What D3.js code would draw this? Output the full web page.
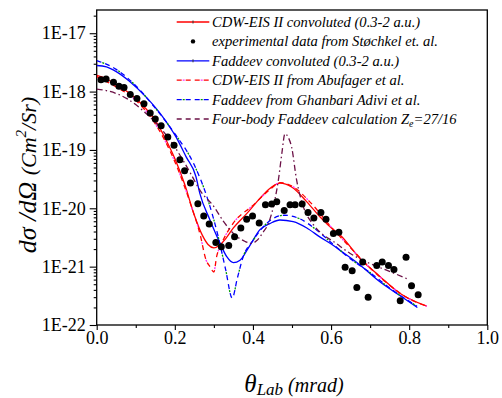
<!DOCTYPE html>
<html>
<head>
<meta charset="utf-8">
<script src="https://cdn.jsdelivr.net/npm/d3@7"></script>
<style>
  body { margin: 0; background: #fff; }
  text { font-family: "Liberation Serif", "Times New Roman", serif; }
</style>
</head>
<body>
<svg id="chart" width="502" height="398"></svg>
<script>
// [theta (mrad), dsigma/dOmega (cm^2/sr)]
const experimental = [
  [0.011, 1.6e-18], [0.024, 1.65e-18], [0.043, 1.45e-18], [0.057, 1.23e-18], [0.070, 1.17e-18],
  [0.086, 8.9e-19], [0.103, 7.6e-19], [0.121, 6.2e-19], [0.137, 4.3e-19], [0.150, 3.4e-19],
  [0.165, 2.6e-19], [0.182, 1.67e-19], [0.198, 1.2e-19], [0.213, 6.8e-20], [0.225, 4.4e-20],
  [0.240, 2.7e-20], [0.259, 1.2e-20], [0.274, 7.4e-21], [0.288, 5.4e-21], [0.305, 2.6e-21],
  [0.319, 2.2e-21], [0.338, 2.3e-21], [0.353, 3.25e-21], [0.369, 4.6e-21], [0.384, 6.5e-21],
  [0.399, 7.4e-21], [0.416, 5.6e-21], [0.432, 1.15e-20], [0.448, 1.18e-20], [0.461, 1.29e-20],
  [0.480, 9.2e-21], [0.495, 1.15e-20], [0.508, 1.15e-20], [0.526, 1.18e-20], [0.541, 8.5e-21],
  [0.556, 6.8e-21], [0.574, 8.5e-21], [0.587, 6.5e-21], [0.606, 3.7e-21], [0.620, 3.9e-21],
  [0.636, 9.8e-22], [0.654, 8.5e-22], [0.666, 4.4e-22], [0.681, 1.2e-21], [0.695, 3.0e-22],
  [0.717, 1.05e-21], [0.731, 1.2e-21], [0.747, 1.05e-21], [0.761, 8.9e-22], [0.777, 2.6e-22],
  [0.792, 1.45e-21], [0.806, 4.7e-22], [0.823, 3.3e-22]
];

const cdwConvoluted = [
  [0, 1.9e-18], [0.025, 1.66e-18], [0.05, 1.29e-18], [0.083, 9.5e-19], [0.126, 5.1e-19],
  [0.15, 3.2e-19], [0.175, 1.6e-19], [0.2, 7.1e-20], [0.225, 2.6e-20], [0.25, 7.6e-21],
  [0.27, 3.5e-21], [0.285, 2.4e-21], [0.30, 2.1e-21], [0.315, 2.35e-21], [0.33, 3.0e-21],
  [0.35, 4.6e-21], [0.384, 8.1e-21], [0.418, 1.48e-20], [0.444, 2.2e-20], [0.469, 2.7e-20],
  [0.50, 2.3e-20], [0.538, 1.29e-20], [0.572, 7.1e-21], [0.606, 4.3e-21], [0.623, 3.5e-21],
  [0.674, 1.38e-21], [0.725, 6.8e-22], [0.776, 3.5e-22], [0.845, 2.1e-22]
];

const faddeevConvoluted = [
  [0, 2.8e-18], [0.025, 2.65e-18], [0.05, 2.2e-18], [0.083, 1.52e-18], [0.126, 8.1e-19],
  [0.169, 3.7e-19], [0.203, 1.67e-19], [0.229, 7.6e-20], [0.254, 3.5e-20], [0.264, 1.8e-20],
  [0.29, 6.3e-21], [0.316, 2.5e-21], [0.333, 1.48e-21], [0.35, 1.17e-21], [0.367, 1.29e-21],
  [0.392, 2.3e-21], [0.418, 4.3e-21], [0.444, 5.5e-21], [0.469, 6.3e-21], [0.503, 5.9e-21],
  [0.538, 4.6e-21], [0.572, 3.2e-21], [0.606, 2.3e-21], [0.623, 1.9e-21], [0.674, 1.07e-21],
  [0.725, 5.5e-22], [0.776, 3.2e-22], [0.821, 2.0e-22]
];

const cdwAbufager = [
  [0, 1.8e-18], [0.05, 1.2e-18], [0.1, 7.1e-19], [0.15, 2.8e-19], [0.2, 6.3e-20],
  [0.24, 1.2e-20], [0.265, 3.5e-21], [0.28, 1.3e-21], [0.29, 1.0e-21], [0.30, 8.1e-22],
  [0.307, 1.48e-21], [0.32, 2.5e-21], [0.35, 5.6e-21], [0.40, 1.12e-20], [0.44, 2.0e-20],
  [0.47, 2.75e-20], [0.50, 2.4e-20], [0.55, 1.2e-20], [0.60, 4.8e-21], [0.65, 2.1e-21],
  [0.70, 9.5e-22], [0.75, 4.8e-22], [0.80, 2.8e-22], [0.845, 2.1e-22]
];

const faddeevGhanbari = [
  [0, 3.4e-18], [0.05, 2.4e-18], [0.1, 1.26e-18], [0.15, 5.2e-19], [0.2, 1.9e-19],
  [0.25, 5.5e-20], [0.285, 1.38e-20], [0.31, 3.5e-21], [0.33, 9.0e-22], [0.347, 2.9e-22],
  [0.36, 6.3e-22], [0.375, 1.48e-21], [0.40, 2.8e-21], [0.44, 5.9e-21], [0.48, 7.6e-21],
  [0.52, 6.6e-21], [0.56, 4.4e-21], [0.60, 2.6e-21], [0.65, 1.35e-21], [0.70, 7.9e-22],
  [0.75, 4.3e-22], [0.82, 2.1e-22]
];

const fourBody = [
  [0, 1.1e-18], [0.03, 1.02e-18], [0.08, 7.4e-19], [0.125, 4.3e-19], [0.17, 2.1e-19],
  [0.2, 1.12e-19], [0.24, 4.0e-20], [0.265, 2.0e-20], [0.30, 1.07e-20], [0.325, 5.9e-21],
  [0.35, 3.7e-21], [0.38, 2.7e-21], [0.397, 2.5e-21], [0.41, 2.8e-21], [0.425, 3.8e-21],
  [0.44, 5.6e-21], [0.456, 1.38e-20], [0.465, 3.0e-20], [0.474, 8.7e-20], [0.482, 1.9e-19],
  [0.49, 1.66e-19], [0.499, 1.12e-19], [0.512, 3.0e-20], [0.529, 1.07e-20], [0.555, 5.2e-21],
  [0.58, 3.5e-21], [0.606, 2.7e-21], [0.648, 1.7e-21], [0.691, 1.2e-21], [0.742, 8.7e-22],
  [0.80, 6.0e-22]
];

const xTicks = [0, 0.2, 0.4, 0.6, 0.8, 1.0];
const xMinorTicks = [0.1, 0.3, 0.5, 0.7, 0.9];
const yTicks = [1e-22, 1e-21, 1e-20, 1e-19, 1e-18, 1e-17];

const svg = d3.select('#chart');
const plotLeft = 96.7, plotRight = 487.3, plotTop = 10, plotBottom = 325;

const x = d3.scaleLinear().domain([0, 1]).range([plotLeft, plotRight]);
const y = d3.scaleLog().domain([1e-22, 2.5e-17]).range([plotBottom, plotTop]);

svg.append('defs').append('clipPath').attr('id', 'plot')
  .append('rect').attr('x', plotLeft).attr('y', plotTop)
  .attr('width', plotRight - plotLeft).attr('height', plotBottom - plotTop);

// Axes

svg.append('g').attr('transform', `translate(0,${plotBottom})`)
  .call(d3.axisBottom(x).tickValues(xTicks).tickFormat(d3.format('.1f')).tickSize(5).tickPadding(1));
svg.append('g').attr('transform', `translate(0,${plotBottom})`)
  .call(d3.axisBottom(x).tickValues(xMinorTicks).tickFormat('').tickSize(3));

const yMinor = [];
for (let e = -22; e <= -17; e++) {
  for (let k = 2; k <= 9; k++) {
    const v = k * Math.pow(10, e);
    if (v < 2.5e-17) yMinor.push(v);
  }
}
svg.append('g').attr('transform', `translate(${plotLeft},0)`)
  .call(d3.axisLeft(y).tickValues(yTicks)
    .tickFormat(d => '1E' + Math.round(Math.log10(d))).tickSize(7).tickPadding(4));
svg.append('g').attr('transform', `translate(${plotLeft},0)`)
  .call(d3.axisLeft(y).tickValues(yMinor).tickFormat('').tickSize(3));

svg.selectAll('.domain').remove();
svg.selectAll('.tick line').attr('stroke', '#000').attr('stroke-width', 1.1);
svg.selectAll('.tick text').attr('font-size', 18).attr('fill', '#000')
  .attr('font-family', '"Liberation Serif", serif');

svg.append('rect')
  .attr('x', plotLeft).attr('y', plotTop)
  .attr('width', plotRight - plotLeft).attr('height', plotBottom - plotTop)
  .attr('fill', 'none').attr('stroke', '#000').attr('stroke-width', 1.3);

// Curves

const line = d3.line()
  .x(d => x(d[0]))
  .y(d => y(d[1]))
  .curve(d3.curveMonotoneX);

const series = [
  { data: cdwConvoluted, strokes: [{ color: '#ff0000' }] },
  { data: faddeevConvoluted, strokes: [{ color: '#0000ff' }] },
  { data: cdwAbufager, strokes: [
    { color: '#ff0000', dash: '5,4' },
    { color: '#ff33ff', dash: '2,16', offset: -6 }] },
  { data: faddeevGhanbari, strokes: [
    { color: '#0000ff', dash: '5,4' },
    { color: '#009900', dash: '2,16', offset: -6 }] },
  { data: fourBody, strokes: [{ color: '#6b1046', dash: '6,3,1.5,3' }] },
];

const plot = svg.append('g').attr('clip-path', 'url(#plot)');

series.forEach(s => {
  s.strokes.forEach(st => {
    plot.append('path')
      .attr('d', line(s.data))
      .attr('fill', 'none')
      .attr('stroke', st.color)
      .attr('stroke-width', 1.3)
      .attr('stroke-dasharray', st.dash || null)
      .attr('stroke-dashoffset', st.offset || null);
  });
});

plot.selectAll('circle.exp')
  .data(experimental)
  .join('circle')
  .attr('class', 'exp')
  .attr('cx', d => x(d[0]))
  .attr('cy', d => y(d[1]))
  .attr('r', 3.5)
  .attr('fill', '#000');

// Legend

const legendX0 = 176.7, legendX1 = 209.3, legendTextX = 212;
const legendRows = [
  { label: 'CDW-EIS II convoluted (0.3-2 a.u.)', strokes: series[0].strokes, tick: true },
  { label: 'experimental data from Støchkel et. al.', dot: true },
  { label: 'Faddeev convoluted (0.3-2 a.u.)', strokes: series[1].strokes, tick: true },
  { label: 'CDW-EIS II from Abufager et al.', strokes: series[2].strokes },
  { label: 'Faddeev from Ghanbari Adivi et al.', strokes: series[3].strokes },
  { label: 'Four-body Faddeev calculation ', strokes: series[4].strokes, ze: true },
];

const legend = svg.append('g');
legendRows.forEach((r, i) => {
  const cy = 22 + i * 19.4;
  if (r.dot) {
    legend.append('circle').attr('cx', (legendX0 + legendX1) / 2).attr('cy', cy).attr('r', 2.2).attr('fill', '#000');
  } else {
    r.strokes.forEach(st => {
      legend.append('line')
        .attr('x1', legendX0).attr('x2', legendX1).attr('y1', cy).attr('y2', cy)
        .attr('stroke', st.color).attr('stroke-width', 1.3)
        .attr('stroke-dasharray', st.dash ? (st.offset ? '2,16' : '5,4') : null)
        .attr('stroke-dashoffset', st.offset ? -6 : null);
    });
    if (r.tick) {
      legend.append('line')
        .attr('x1', (legendX0 + legendX1) / 2).attr('x2', (legendX0 + legendX1) / 2)
        .attr('y1', cy - 1.5).attr('y2', cy + 1.5)
        .attr('stroke', '#333').attr('stroke-width', 1);
    }
  }
  const t = legend.append('text')
    .attr('x', legendTextX).attr('y', cy + 5)
    .attr('font-size', 14.6).attr('font-style', 'italic').attr('fill', '#000')
    .text(r.label);
  if (r.ze) {
    t.append('tspan').text('Z');
    t.append('tspan').attr('font-size', 10).attr('dy', 3).text('e');
    t.append('tspan').attr('dy', -3).text('=27/16');
  }
});

// Axis titles

const xt = svg.append('text')
  .attr('x', 294).attr('y', 392)
  .attr('text-anchor', 'middle').attr('font-style', 'italic').attr('fill', '#000');
xt.append('tspan').attr('font-size', 25).text('θ');
xt.append('tspan').attr('font-size', 17).attr('dy', 3).text('Lab');
xt.append('tspan').attr('font-size', 20).attr('dy', -3).text(' (mrad)');

const yt = svg.append('text')
  .attr('transform', 'translate(36,175) rotate(-90)')
  .attr('text-anchor', 'middle').attr('font-style', 'italic').attr('fill', '#000');
yt.append('tspan').attr('font-size', 26).text('dσ /dΩ ');
yt.append('tspan').attr('font-size', 22).text('(Cm');
yt.append('tspan').attr('font-size', 15).attr('dy', -10).text('2');
yt.append('tspan').attr('font-size', 22).attr('dy', 10).text('/Sr)');
</script>
</body>
</html>
